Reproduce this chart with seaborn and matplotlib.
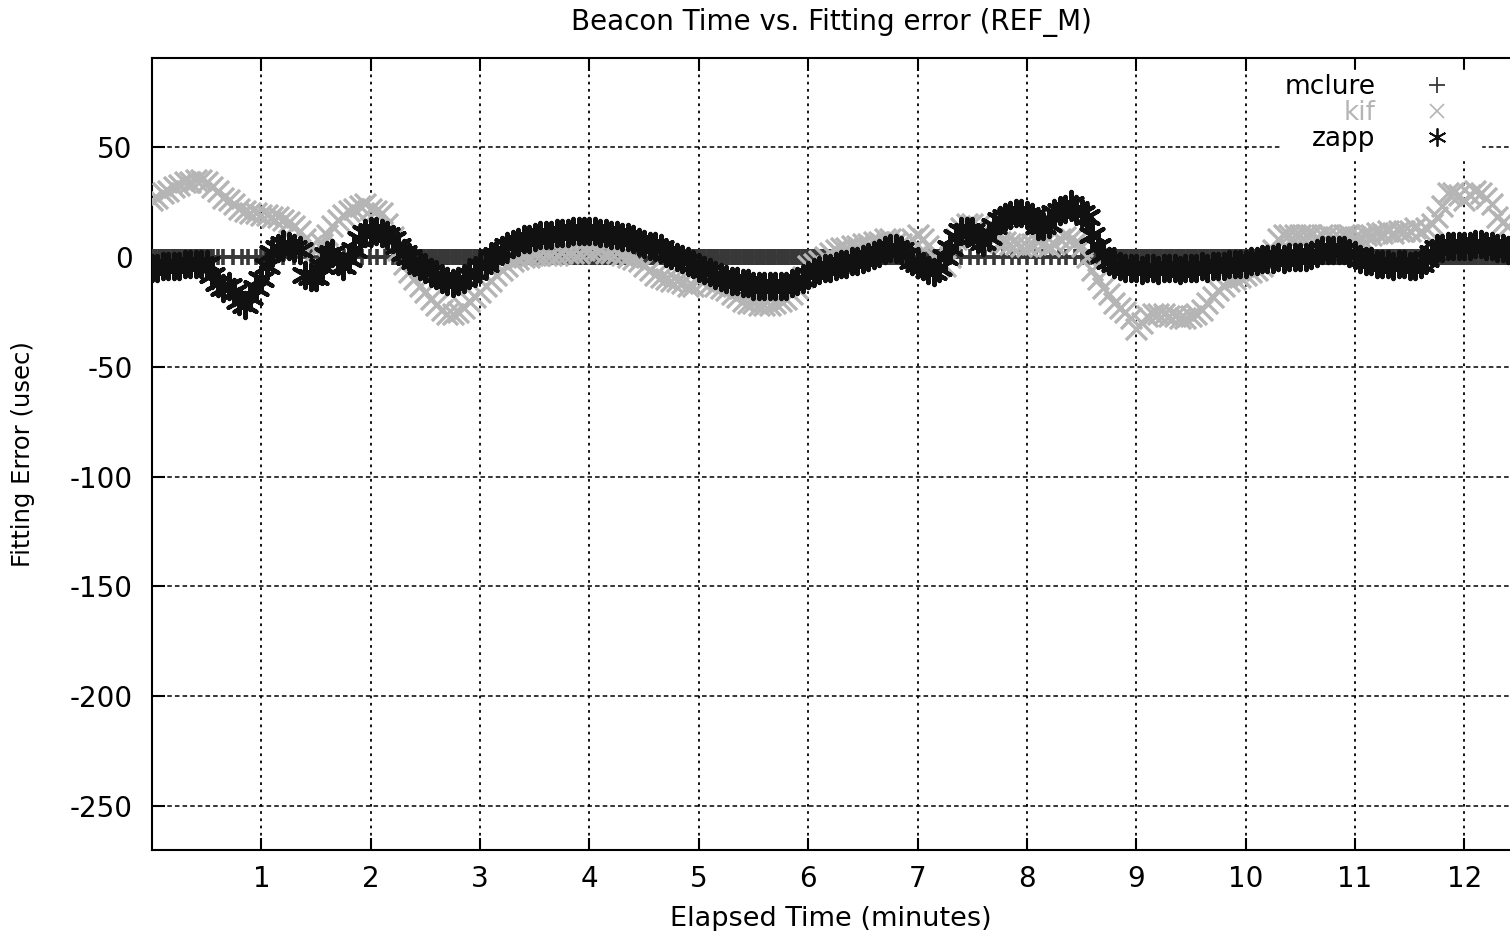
import numpy as np
import pandas as pd
import matplotlib
matplotlib.use("Agg")
import matplotlib.pyplot as plt
from matplotlib.lines import Line2D
import seaborn as sns

# Fitting error (usec) of each host, sampled every 0.05 minutes from t = 0
sample_step = 0.05

kif_err = [
    26, 27, 29, 30, 32, 33, 34, 34, 35, 35,
    34, 32, 30, 27, 26, 24, 22, 21, 20, 20,
    19, 19, 18, 18, 17, 16, 14, 12, 8, 5,
    3, 6, 10, 14, 17, 19, 21, 22, 23, 24,
    22, 21, 20, 15, 9, 3, -3, -7, -10, -13,
    -16, -19, -22, -24, -26, -26, -25, -23, -20, -18,
    -16, -13, -11, -8, -6, -4, -2, -1, 0, 0,
    1, 1, 1, 1, 1, 2, 2, 2, 2, 3,
    3, 3, 3, 2, 2, 2, 1, 0, -1, -2,
    -4, -6, -8, -9, -10, -11, -11, -12, -13, -13,
    -10, -11, -12, -13, -14, -15, -17, -18, -20, -21,
    -21, -22, -22, -22, -21, -20, -19, -17, -14, -9,
    -4, -3, -2, 0, 2, 3, 4, 4, 5, 5,
    6, 6, 7, 7, 8, 8, 7, 6, 6, 8,
    10, 8, 5, 0, -4, -4, 0, 8, 13, 15,
    15, 14, 12, 10, 8, 7, 7, 6, 6, 5,
    5, 6, 7, 6, 5, 6, 8, 9, 8, 7,
    5, 0, -6, -10, -14, -17, -21, -23, -25, -28,
    -33, -30, -27, -26, -26, -26, -27, -27, -28, -28,
    -27, -26, -24, -21, -18, -15, -13, -11, -10, -9,
    -8, -7, -6, -4, -1, 3, 8, 10, 10, 10,
    10, 10, 10, 9, 10, 10, 9, 9, 10, 10,
    9, 9, 10, 10, 11, 11, 12, 11, 12, 12,
    12, 13, 12, 13, 15, 18, 23, 29, 29, 28,
    26, 28, 30, 29, 27, 24, 18, 16, 14,
]

zapp_err = [
    -5, -5, -4, -4, -4, -4, -3, -3, -3, -3,
    -3, -8, -12, -14, -13, -16, -20, -22, -18, -14,
    -10, -4, 2, 4, 6, 5, 4, 3, -8, -9,
    -9, -4, 1, 2, -2, -4, -1, 3, 8, 11,
    12, 12, 11, 10, 8, 5, 2, 0, -2, -4,
    -5, -7, -8, -10, -11, -12, -11, -10, -8, -7,
    -4, -3, 0, 1, 3, 5, 6, 7, 8, 8,
    9, 10, 10, 10, 11, 11, 11, 12, 12, 12,
    12, 12, 11, 11, 10, 10, 9, 9, 8, 7,
    6, 5, 5, 4, 2, 1, 0, -1, -2, -3,
    -5, -6, -7, -8, -9, -10, -11, -11, -12, -12,
    -13, -13, -13, -13, -13, -13, -13, -12, -11, -10,
    -8, -7, -6, -5, -5, -4, -3, -3, -2, -2,
    -1, 0, 1, 2, 3, 4, 4, 3, 1, -2,
    -3, -4, -6, -7, -5, 0, 4, 9, 12, 12,
    12, 8, 7, 9, 14, 17, 18, 19, 20, 20,
    19, 18, 14, 14, 15, 20, 21, 22, 24, 22,
    20, 18, 10, 5, 1, -2, -3, -4, -5, -5,
    -5, -6, -5, -5, -6, -5, -5, -5, -6, -5,
    -5, -5, -4, -5, -4, -4, -4, -3, -3, -3,
    -3, -2, -2, -1, -1, -1, 0, -1, 0, 0,
    0, 0, 1, 2, 3, 3, 3, 3, 3, 2,
    1, -1, -2, -2, -3, -3, -3, -4, -3, -3,
    -4, -4, -3, -1, 2, 4, 4, 5, 5, 5,
    5, 5, 6, 6, 5, 5, 4, 4, 3,
]

# mclure stays on zero; it reports continuously (every 0.02 min) over these spans
mclure_step = 0.02
mclure_spans = [(0.00, 0.56), (2.24, 7.30), (8.60, 12.42)]
# and only sporadically in between
mclure_sparse = [0.60, 0.65, 0.74, 0.82, 0.88, 0.95, 1.00, 1.03, 1.06, 1.10,
                 1.20, 1.30, 1.45, 1.60, 1.70, 1.76, 1.84, 1.92, 1.99, 2.06,
                 2.13, 2.20, 7.40, 7.48, 7.55, 7.62, 7.70, 7.78, 7.86, 7.93,
                 8.00, 8.08, 8.15, 8.22, 8.29, 8.36, 8.44, 8.50, 8.56]

x_ticks = list(range(1, 13))
y_ticks = [-250, -200, -150, -100, -50, 0, 50]

hosts = ["mclure", "kif", "zapp"]
host_colors = {"mclure": "#383838", "kif": "#b5b5b5", "zapp": "#111111"}

# ---- assemble tables ---------------------------------------------------------
minutes = np.round(np.arange(len(kif_err)) * sample_step, 2)
kif_df = pd.DataFrame({"minutes": minutes, "error": kif_err})
zapp_df = pd.DataFrame({"minutes": minutes, "error": zapp_err})

mclure_t = []
for start, stop in mclure_spans:
    n = int(round((stop - start) / mclure_step)) + 1
    mclure_t.extend(np.round(start + np.arange(n) * mclure_step, 2))
mclure_t = sorted(mclure_t + mclure_sparse)
mclure_df = pd.DataFrame({"minutes": mclure_t, "error": np.zeros(len(mclure_t))})

# ---- style ------------------------------------------------------------------
sns.set_style("ticks")
plt.rcParams["font.family"] = ["DejaVu Sans"]
plt.rcParams["axes.unicode_minus"] = False
plt.rcParams["text.color"] = "black"
plt.rcParams["axes.labelcolor"] = "black"
plt.rcParams["xtick.color"] = "black"
plt.rcParams["ytick.color"] = "black"

fig = plt.figure(figsize=(15.10, 9.31), dpi=100)
ax = fig.add_axes([152 / 1510, 1 - 850 / 931, (1510 - 152) / 1510, 792 / 931])

# draw the three hosts in order, later ones on top
sns.scatterplot(data=mclure_df, x="minutes", y="error", marker="+", s=120,
                color=host_colors["mclure"], linewidth=2.6, ax=ax,
                legend=False, zorder=3)
sns.scatterplot(data=kif_df, x="minutes", y="error", marker="x", s=230,
                color=host_colors["kif"], linewidth=2.4, ax=ax,
                legend=False, zorder=4)
sns.scatterplot(data=zapp_df, x="minutes", y="error", marker=(6, 2, 0), s=330,
                color=host_colors["zapp"], linewidth=3.0, ax=ax,
                legend=False, zorder=5)

ax.set_xlim(0, (1510 - 152) / 109.36)
ax.set_ylim(-270, 90.6)
ax.set_xticks(x_ticks)
ax.set_yticks(y_ticks)
ax.set_xticklabels([str(t) for t in x_ticks])
ax.set_yticklabels([str(t) for t in y_ticks])

for side in ["left", "bottom", "top"]:
    ax.spines[side].set_linewidth(1.5)
    ax.spines[side].set_color("black")
ax.spines["right"].set_visible(False)

ax.tick_params(axis="both", direction="in", length=9, width=1.5,
               colors="black", labelsize=20)
ax.tick_params(axis="x", top=True, pad=11)
ax.tick_params(axis="y", pad=14)

ax.set_axisbelow(True)
ax.xaxis.grid(True, color="black", linestyle=(0, (1.5, 2.5)), linewidth=1.3)
ax.yaxis.grid(True, color="black", linestyle=(0, (3, 2)), linewidth=1.1)

ax.set_title("Beacon Time vs. Fitting error (REF_M)", fontsize=20, pad=20)
ax.set_xlabel("Elapsed Time (minutes)", fontsize=19.5, labelpad=9)
ax.set_ylabel("Fitting Error (usec)", fontsize=17.5, labelpad=25)

handles = [
    Line2D([], [], linestyle="", marker="+", markersize=12, markeredgewidth=1.3,
           color=host_colors["mclure"]),
    Line2D([], [], linestyle="", marker="x", markersize=10, markeredgewidth=1.2,
           color=host_colors["kif"]),
    Line2D([], [], linestyle="", marker=(6, 2, 0), markersize=13,
           markeredgewidth=1.3, color=host_colors["zapp"]),
]
leg = ax.legend(handles, hosts, loc="upper right",
                bbox_to_anchor=((1481 - 152) / 1358, (850 - 70) / 792),
                markerfirst=False, frameon=True, fancybox=False,
                borderaxespad=0, borderpad=0.15, labelspacing=0.0,
                handlelength=3.0, handletextpad=0.85, fontsize=19)
leg.get_frame().set_facecolor("white")
leg.get_frame().set_edgecolor("white")
leg.get_frame().set_alpha(1)
for txt, host in zip(leg.get_texts(), hosts):
    txt.set_color("black" if host != "kif" else host_colors["kif"])
    txt.set_ha("right")
leg._legend_box.align = "right"

fig.savefig("out.png", dpi=100)
